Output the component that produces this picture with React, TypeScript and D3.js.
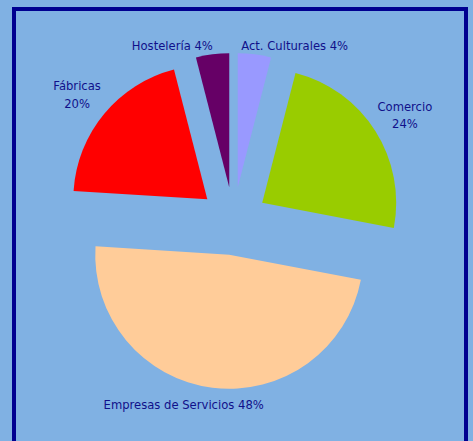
import React, { useRef, useEffect } from "react";
import * as d3 from "d3";

// data
const categories = [
  "Act. Culturales",
  "Comercio",
  "Empresas de Servicios",
  "Fábricas",
  "Hostelería",
];
const values = [4, 24, 48, 20, 4];
const colors = ["#9999FF", "#99CC00", "#FFCC99", "#FF0000", "#660066"];
// labels on two lines for these
const twoLine = [false, true, false, true, false];

const App = () => {
  const svgRef = useRef<SVGSVGElement | null>(null);
  const width = 473;
  const height = 441;

  useEffect(() => {
    if (!svgRef.current) return;
    const svg = d3.select(svgRef.current);
    svg.selectAll("*").remove();

    const cx = 233.5;
    const cy = 221;
    const radius = 134;
    const explode = 34;

    // background + frame
    svg
      .append("rect")
      .attr("width", width)
      .attr("height", height)
      .attr("fill", "#80B1E3");
    svg
      .append("rect")
      .attr("x", 14)
      .attr("y", 9)
      .attr("width", 452)
      .attr("height", 460)
      .attr("fill", "none")
      .attr("stroke", "#000090")
      .attr("stroke-width", 4);

    const data = categories.map((c, i) => ({
      name: c,
      value: values[i],
      color: colors[i],
      twoLine: twoLine[i],
    }));

    const pie = d3
      .pie<any>()
      .value((d) => d.value)
      .sort(null)
      .startAngle(0)
      .endAngle(2 * Math.PI);
    const arcs = pie(data);
    const arc = d3.arc<any>().innerRadius(0).outerRadius(radius);

    const g = svg.append("g").attr("transform", `translate(${cx},${cy})`);

    g.selectAll("path")
      .data(arcs)
      .join("path")
      .attr("d", arc as any)
      .attr("fill", (d: any) => d.data.color)
      .attr("transform", (d: any) => {
        const mid = (d.startAngle + d.endAngle) / 2;
        return `translate(${explode * Math.sin(mid)},${-explode * Math.cos(mid)})`;
      });

    // label position: along the mid angle, pushed sideways when near the vertical
    const labelPos = (d: any) => {
      let a = (d.startAngle + d.endAngle) / 2;
      const s = Math.sin(a);
      const c = Math.cos(a);
      let L = d.data.twoLine ? 203 : 186;
      if (Math.abs(s) < 0.3) {
        const shift = ((d.data.value < 10 ? 12 : 8) * Math.PI) / 180;
        a += Math.sign(s) * Math.sign(c) * shift;
        if (d.data.value > 40) L = 190;
      }
      return [L * Math.sin(a), -L * Math.cos(a)];
    };

    const labels = g
      .selectAll("text")
      .data(arcs)
      .join("text")
      .attr("font-family", "'DejaVu Sans', Verdana, sans-serif")
      .attr("font-size", 11.6)
      .attr("fill", "#10108A")
      .attr("text-anchor", "middle")
      .attr("transform", (d: any) => {
        const [x, y] = labelPos(d);
        return `translate(${x},${y})`;
      });

    labels.each(function (d: any) {
      const t = d3.select(this);
      const pct = `${d.data.value}%`;
      if (d.data.twoLine) {
        t.append("tspan").attr("x", 0).attr("dy", "-0.1em").text(d.data.name);
        t.append("tspan").attr("x", 0).attr("dy", "1.5em").text(pct);
      } else {
        t.append("tspan").attr("x", 0).attr("dy", "0.36em").text(`${d.data.name} ${pct}`);
      }
    });
  }, []);

  return (
    <div style={{ position: "absolute", left: 0, top: 0, width, height }}>
      <svg ref={svgRef} width={width} height={height} style={{ display: "block" }} />
    </div>
  );
};

export default App;
